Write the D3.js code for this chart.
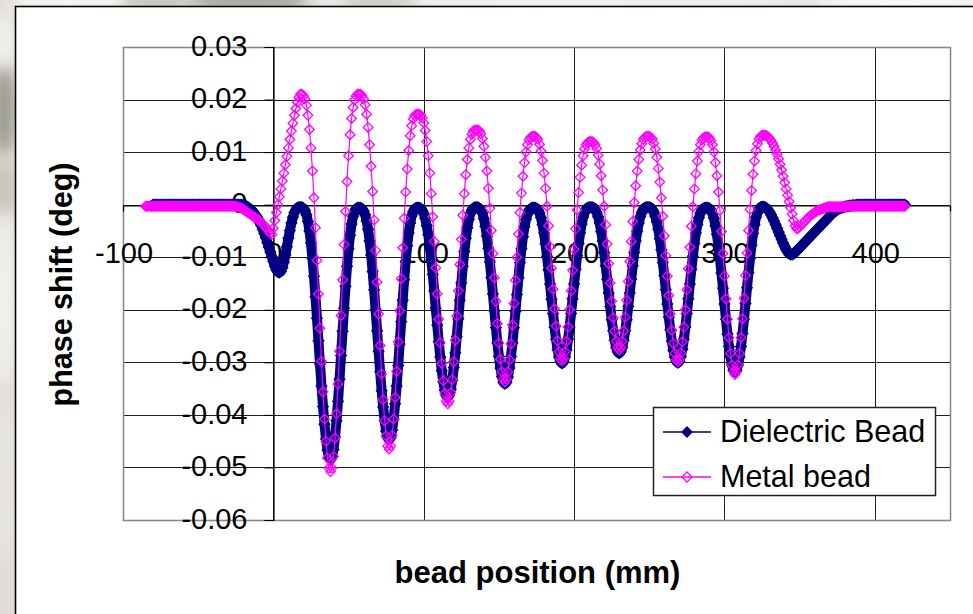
<!DOCTYPE html>
<html>
<head>
<meta charset="utf-8">
<script src="https://cdn.jsdelivr.net/npm/d3@7"></script>
<style>
  html, body { margin: 0; padding: 0; background: #ffffff; overflow: hidden; width: 973px; height: 614px; }
  svg { display: block; }
  text { font-family: "Liberation Sans", Arial, sans-serif; }
</style>
</head>
<body>
<svg id="chart" width="973" height="614"></svg>
<script>
// Bead-pull measurement: phase shift along the cavity axis, sampled every 1 mm
const beadPositions = d3.range(-85, 421);

// Dielectric bead phase shift (deg); null where no sample was taken
const dielectric = [
  null, null, null, null, null,
  0, 0, 0, 0, 0, 0, 0, 0, 0, 0, 0, 0, 0, 0, 0, 0, 0, 0, 0, 0,
  0, 0, 0, 0, 0, 0, 0, 0, 0, 0, 0, 0, 0, 0, 0, 0, 0, 0, 0, 0,
  0, 0, 0, 0, 0, 0, 0, 0, 0, 0, 0, 0, 0, 0, 0, 0, 0, 0, 0, 0,
  0, -0.0001, -0.0003, -0.0005, -0.0007, -0.0009, -0.0012, -0.0015, -0.0019, -0.0023, -0.0028, -0.0034,
  -0.0040, -0.0047, -0.0055, -0.0063, -0.0072, -0.0081, -0.0090, -0.0099, -0.0108, -0.0117, -0.0124, -0.0128,
  -0.0129, -0.0127, -0.0120, -0.0109, -0.0096, -0.0080, -0.0064, -0.0049, -0.0035, -0.0024, -0.0015, -0.0010, -0.0006, -0.0005,
  -0.0005, -0.0005, -0.0007, -0.0011, -0.0019, -0.0032, -0.0050, -0.0073, -0.0102, -0.0136, -0.0175, -0.0216, -0.0259, -0.0303, -0.0345, -0.0384, -0.0418, -0.0446, -0.0467, -0.0481, -0.0485,
  -0.0480, -0.0466, -0.0442, -0.0411, -0.0374, -0.0332, -0.0287, -0.0241, -0.0197, -0.0155, -0.0117, -0.0084, -0.0058, -0.0037, -0.0022, -0.0013, -0.0008, -0.0006, -0.0006,
  -0.0006, -0.0008, -0.0012, -0.0019, -0.0031, -0.0047, -0.0069, -0.0096, -0.0127, -0.0162, -0.0200, -0.0240, -0.0279, -0.0318, -0.0354, -0.0385, -0.0411, -0.0431, -0.0443, -0.0447,
  -0.0443, -0.0429, -0.0408, -0.0379, -0.0345, -0.0306, -0.0265, -0.0223, -0.0182, -0.0143, -0.0108, -0.0078, -0.0054, -0.0035, -0.0021, -0.0013, -0.0008, -0.0006, -0.0006,
  -0.0006, -0.0007, -0.0011, -0.0017, -0.0026, -0.0040, -0.0057, -0.0079, -0.0105, -0.0133, -0.0164, -0.0197, -0.0229, -0.0261, -0.0290, -0.0316, -0.0337, -0.0353, -0.0363, -0.0366,
  -0.0362, -0.0351, -0.0334, -0.0310, -0.0282, -0.0251, -0.0217, -0.0182, -0.0149, -0.0117, -0.0089, -0.0064, -0.0044, -0.0028, -0.0017, -0.0010, -0.0007, -0.0005, -0.0005,
  -0.0005, -0.0007, -0.0010, -0.0016, -0.0027, -0.0041, -0.0060, -0.0083, -0.0109, -0.0139, -0.0170, -0.0202, -0.0234, -0.0263, -0.0289, -0.0311, -0.0327, -0.0338, -0.0341,
  -0.0338, -0.0328, -0.0311, -0.0289, -0.0263, -0.0234, -0.0203, -0.0171, -0.0139, -0.0110, -0.0084, -0.0061, -0.0042, -0.0028, -0.0018, -0.0011, -0.0008, -0.0006, -0.0006,
  -0.0006, -0.0007, -0.0010, -0.0016, -0.0025, -0.0038, -0.0054, -0.0075, -0.0098, -0.0124, -0.0151, -0.0180, -0.0207, -0.0233, -0.0256, -0.0276, -0.0290, -0.0299, -0.0302,
  -0.0299, -0.0290, -0.0276, -0.0256, -0.0233, -0.0207, -0.0179, -0.0151, -0.0123, -0.0097, -0.0074, -0.0054, -0.0037, -0.0024, -0.0015, -0.0009, -0.0006, -0.0005, -0.0005,
  -0.0005, -0.0006, -0.0009, -0.0015, -0.0023, -0.0035, -0.0051, -0.0069, -0.0091, -0.0116, -0.0142, -0.0168, -0.0194, -0.0219, -0.0240, -0.0258, -0.0272, -0.0280, -0.0283,
  -0.0280, -0.0272, -0.0258, -0.0240, -0.0219, -0.0194, -0.0168, -0.0142, -0.0116, -0.0091, -0.0069, -0.0051, -0.0035, -0.0023, -0.0015, -0.0009, -0.0006, -0.0005, -0.0005,
  -0.0005, -0.0006, -0.0009, -0.0014, -0.0022, -0.0033, -0.0047, -0.0065, -0.0086, -0.0110, -0.0135, -0.0162, -0.0189, -0.0214, -0.0238, -0.0260, -0.0277, -0.0290, -0.0298, -0.0301,
  -0.0298, -0.0289, -0.0275, -0.0256, -0.0233, -0.0207, -0.0179, -0.0151, -0.0123, -0.0098, -0.0074, -0.0054, -0.0038, -0.0025, -0.0016, -0.0010, -0.0007, -0.0006, -0.0006,
  -0.0006, -0.0007, -0.0011, -0.0017, -0.0026, -0.0040, -0.0057, -0.0078, -0.0103, -0.0130, -0.0159, -0.0189, -0.0218, -0.0246, -0.0270, -0.0290, -0.0305, -0.0315, -0.0318,
  -0.0315, -0.0305, -0.0290, -0.0270, -0.0245, -0.0218, -0.0188, -0.0158, -0.0129, -0.0102, -0.0077, -0.0055, -0.0038, -0.0024, -0.0015, -0.0009, -0.0005, -0.0004, -0.0004,
  -0.0005, -0.0007, -0.0010, -0.0014, -0.0019, -0.0025, -0.0031, -0.0038, -0.0045, -0.0052, -0.0059, -0.0066, -0.0073, -0.0079, -0.0085, -0.0090, -0.0093, -0.0095,
  -0.0095, -0.0093, -0.0091, -0.0088, -0.0085, -0.0082, -0.0079, -0.0076, -0.0073, -0.0070, -0.0067, -0.0064, -0.0061, -0.0058, -0.0055,
  -0.0052, -0.0049, -0.0046, -0.0043, -0.0040, -0.0037, -0.0034, -0.0031, -0.0028, -0.0025, -0.0022, -0.0019, -0.0016, -0.0014, -0.0012,
  -0.0010, -0.0008, -0.0007, -0.0006, -0.0005, -0.0004, -0.0003, -0.0003, -0.0002, -0.0002, -0.0001, -0.0001, -0.0001,
  0, 0, 0, 0, 0, 0, 0, 0, 0, 0, 0, 0, 0, 0, 0, 0, 0, 0, 0, 0, 0, 0, 0, 0, 0, 0, 0, 0, 0, 0, 0, 0, 0
];

// Metal bead phase shift (deg)
const metal = [
  -0.0003, -0.0003, -0.0003, -0.0003, -0.0003, -0.0003, -0.0003, -0.0003, -0.0003, -0.0003, -0.0003, -0.0003, -0.0003, -0.0003, -0.0003,
  -0.0003, -0.0003, -0.0003, -0.0003, -0.0003, -0.0003, -0.0003, -0.0003, -0.0003, -0.0003, -0.0003, -0.0003, -0.0003, -0.0003, -0.0003,
  -0.0003, -0.0003, -0.0003, -0.0003, -0.0003, -0.0003, -0.0003, -0.0003, -0.0003, -0.0003, -0.0003, -0.0003, -0.0003, -0.0003, -0.0003,
  -0.0003, -0.0003, -0.0003, -0.0003, -0.0003, -0.0003, -0.0003, -0.0003, -0.0003, -0.0003, -0.0003, -0.0003, -0.0003, -0.0003, -0.0003,
  -0.0003, -0.0004, -0.0005, -0.0006, -0.0007, -0.0009, -0.0011, -0.0013, -0.0015, -0.0017, -0.0019, -0.0021, -0.0023,
  -0.0025, -0.0027, -0.0029, -0.0031, -0.0034, -0.0037, -0.0040, -0.0043, -0.0047, -0.0051, -0.0055, -0.0057,
  -0.0045, -0.0030, -0.0015, 0.0000, 0.0015, 0.0030, 0.0045, 0.0060, 0.0076, 0.0092, 0.0108, 0.0124, 0.0140, 0.0155, 0.0170, 0.0183, 0.0195, 0.0204, 0.0210,
  0.0210, 0.0207, 0.0201, 0.0189, 0.0170, 0.0143, 0.0108, 0.0064, 0.0013, -0.0044, -0.0106, -0.0170, -0.0235, -0.0298, -0.0356, -0.0408, -0.0450, -0.0482, -0.0501, -0.0508,
  -0.0501, -0.0479, -0.0444, -0.0398, -0.0341, -0.0279, -0.0211, -0.0143, -0.0076, -0.0013, 0.0044, 0.0093, 0.0133, 0.0164, 0.0185, 0.0199, 0.0207, 0.0210, 0.0210,
  0.0210, 0.0207, 0.0201, 0.0190, 0.0172, 0.0147, 0.0114, 0.0073, 0.0025, -0.0029, -0.0087, -0.0147, -0.0208, -0.0268, -0.0322, -0.0371, -0.0411, -0.0440, -0.0459, -0.0465,
  -0.0459, -0.0439, -0.0408, -0.0367, -0.0317, -0.0261, -0.0202, -0.0141, -0.0082, -0.0026, 0.0024, 0.0068, 0.0103, 0.0131, 0.0150, 0.0163, 0.0169, 0.0172, 0.0172,
  0.0172, 0.0170, 0.0165, 0.0156, 0.0141, 0.0120, 0.0093, 0.0060, 0.0021, -0.0023, -0.0070, -0.0120, -0.0170, -0.0218, -0.0263, -0.0302, -0.0335, -0.0359, -0.0374, -0.0379,
  -0.0374, -0.0358, -0.0333, -0.0299, -0.0258, -0.0212, -0.0164, -0.0114, -0.0066, -0.0020, 0.0021, 0.0057, 0.0086, 0.0108, 0.0124, 0.0134, 0.0140, 0.0142, 0.0142,
  0.0142, 0.0140, 0.0135, 0.0126, 0.0111, 0.0090, 0.0064, 0.0031, -0.0007, -0.0049, -0.0093, -0.0139, -0.0184, -0.0226, -0.0263, -0.0294, -0.0318, -0.0332, -0.0337,
  -0.0332, -0.0318, -0.0295, -0.0265, -0.0229, -0.0188, -0.0144, -0.0100, -0.0056, -0.0015, 0.0022, 0.0054, 0.0080, 0.0100, 0.0114, 0.0123, 0.0128, 0.0130, 0.0130,
  0.0130, 0.0128, 0.0124, 0.0115, 0.0102, 0.0084, 0.0060, 0.0031, -0.0003, -0.0040, -0.0080, -0.0121, -0.0161, -0.0198, -0.0231, -0.0259, -0.0280, -0.0293, -0.0297,
  -0.0293, -0.0280, -0.0260, -0.0233, -0.0200, -0.0164, -0.0125, -0.0085, -0.0046, -0.0010, 0.0023, 0.0052, 0.0075, 0.0093, 0.0106, 0.0114, 0.0118, 0.0120, 0.0120,
  0.0120, 0.0118, 0.0114, 0.0107, 0.0094, 0.0077, 0.0055, 0.0028, -0.0003, -0.0038, -0.0075, -0.0112, -0.0149, -0.0184, -0.0215, -0.0241, -0.0260, -0.0272, -0.0276,
  -0.0272, -0.0260, -0.0240, -0.0214, -0.0182, -0.0146, -0.0108, -0.0070, -0.0032, 0.0004, 0.0036, 0.0064, 0.0086, 0.0104, 0.0116, 0.0124, 0.0128, 0.0130, 0.0130,
  0.0130, 0.0128, 0.0125, 0.0117, 0.0106, 0.0090, 0.0069, 0.0043, 0.0013, -0.0022, -0.0059, -0.0097, -0.0136, -0.0173, -0.0208, -0.0239, -0.0264, -0.0283, -0.0295, -0.0299,
  -0.0295, -0.0282, -0.0261, -0.0233, -0.0200, -0.0162, -0.0122, -0.0081, -0.0041, -0.0004, 0.0030, 0.0059, 0.0083, 0.0101, 0.0114, 0.0123, 0.0127, 0.0129, 0.0129,
  0.0129, 0.0127, 0.0122, 0.0114, 0.0100, 0.0080, 0.0055, 0.0024, -0.0011, -0.0051, -0.0093, -0.0136, -0.0179, -0.0218, -0.0253, -0.0283, -0.0305, -0.0318, -0.0323,
  -0.0318, -0.0305, -0.0283, -0.0253, -0.0217, -0.0178, -0.0135, -0.0092, -0.0049, -0.0009, 0.0027, 0.0058, 0.0083, 0.0103, 0.0116, 0.0125, 0.0130, 0.0132, 0.0132,
  0.0132, 0.0131, 0.0129, 0.0126, 0.0122, 0.0117, 0.0111, 0.0104, 0.0096, 0.0087, 0.0077, 0.0066, 0.0054, 0.0042, 0.0030, 0.0018, 0.0006, -0.0006, -0.0018, -0.0030, -0.0040, -0.0046, -0.0045,
  -0.0042, -0.0039, -0.0036, -0.0033, -0.0030, -0.0027, -0.0024, -0.0021, -0.0019, -0.0017, -0.0015, -0.0013, -0.0011, -0.0010, -0.0009, -0.0008, -0.0007, -0.0006, -0.0005,
  -0.0004, -0.0004, -0.0004, -0.0004, -0.0004, -0.0004, -0.0004, -0.0004, -0.0004, -0.0004, -0.0004, -0.0004,
  -0.0003, -0.0003, -0.0003, -0.0003, -0.0003, -0.0003, -0.0003, -0.0003, -0.0003, -0.0003, -0.0003, -0.0003, -0.0003, -0.0003, -0.0003, -0.0003, -0.0003, -0.0003, -0.0003, -0.0003,
  -0.0003, -0.0003, -0.0003, -0.0003, -0.0003, -0.0003, -0.0003, -0.0003, -0.0003, -0.0003, -0.0003, -0.0003, -0.0003, -0.0003, -0.0003, -0.0003, -0.0003, -0.0003, -0.0003, -0.0003
];

const seriesNames = ["Dielectric Bead", "Metal bead"];
const xTicks = [-100, 0, 100, 200, 300, 400];
const xTickLabels = ["-100", "0", "100", "200", "300", "400"];
const yTicks = [0.03, 0.02, 0.01, 0, -0.01, -0.02, -0.03, -0.04, -0.05, -0.06];
const yTickLabels = ["0.03", "0.02", "0.01", "0", "-0.01", "-0.02", "-0.03", "-0.04", "-0.05", "-0.06"];
const xTitle = "bead position (mm)";
const yTitle = "phase shift (deg)";

const W = 973, H = 614;
const svg = d3.select("#chart");

// ---- surroundings outside the chart frame ----
const defs = svg.append("defs");
defs.append("filter").attr("id", "soft")
  .attr("x", "-50%").attr("y", "-50%").attr("width", "200%").attr("height", "200%")
  .append("feGaussianBlur").attr("stdDeviation", 7);
defs.append("clipPath").attr("id", "page")
  .append("rect").attr("width", W).attr("height", H);

const root = svg.append("g").attr("clip-path", "url(#page)");
const backdrop = root.append("g");
backdrop.append("rect").attr("width", W).attr("height", H).attr("fill", "#dedcd4");
const blobs = backdrop.append("g").attr("filter", "url(#soft)");
[
  [70, 0, 60, 14, "#f6f5f0"], [250, 0, 70, 12, "#a9a89f"], [160, 0, 40, 10, "#c9c7bd"],
  [560, 0, 260, 12, "#f3f2ee"], [900, 0, 90, 12, "#fafafa"], [380, 0, 40, 10, "#d0cfc6"],
  [4, 40, 12, 30, "#f0efe9"], [4, 110, 12, 45, "#9d9c92"], [4, 190, 12, 30, "#c6c5bb"],
  [4, 300, 12, 90, "#f1f0ea"], [4, 480, 12, 90, "#e6e5de"]
].forEach(([cx, cy, rx, ry, c]) => {
  blobs.append("ellipse").attr("cx", cx).attr("cy", cy).attr("rx", rx).attr("ry", ry).attr("fill", c);
});

// chart area (continues past the right and bottom edges)
root.append("rect")
  .attr("x", 15.5).attr("y", 6.5).attr("width", W).attr("height", H)
  .attr("fill", "#ffffff").attr("stroke", "#000000").attr("stroke-width", 1.6);

// ---- scales ----
const plot = { left: 123, right: 950, top: 47, bottom: 520 };
const x = d3.scaleLinear().domain([-100, 450]).range([plot.left, plot.right]);
const y = d3.scaleLinear().domain([-0.06, 0.03]).range([plot.bottom, plot.top]);

// gridlines
const grid = root.append("g").attr("stroke", "#1e1e1e").attr("stroke-width", 1);
yTicks.slice(1, -1).forEach(v => {
  const yy = Math.round(y(v)) + 0.5;
  grid.append("line").attr("x1", plot.left).attr("x2", plot.right).attr("y1", yy).attr("y2", yy);
});
xTicks.slice(1).forEach(v => {
  const xx = Math.round(x(v)) + 0.5;
  grid.append("line").attr("x1", xx).attr("x2", xx).attr("y1", plot.top).attr("y2", plot.bottom);
});

// plot area border
root.append("rect")
  .attr("x", plot.left + 0.5).attr("y", plot.top + 0.5)
  .attr("width", plot.right - plot.left).attr("height", plot.bottom - plot.top)
  .attr("fill", "none").attr("stroke", "#8a8a8a").attr("stroke-width", 1.6);

// axes crossing at zero
const x0 = Math.round(x(0)) + 0.5, y0 = Math.round(y(0)) + 0.5;
const yAxis = d3.axisLeft(y).tickValues(yTicks).tickSize(9).tickFormat("");
root.append("g").attr("transform", `translate(${x0},0)`).call(yAxis)
  .call(g => g.select(".domain").attr("stroke", "#000").attr("stroke-width", 1.2))
  .call(g => g.selectAll(".tick line").attr("stroke", "#000"));
const xAxis = d3.axisBottom(x).tickValues(xTicks).tickSize(6).tickFormat("");
root.append("g").attr("transform", `translate(0,${y0})`).call(xAxis)
  .call(g => g.select(".domain").attr("stroke", "#000").attr("stroke-width", 1.2))
  .call(g => g.selectAll(".tick line").attr("stroke", "#000"));

// tick labels
root.append("g").selectAll("text").data(yTicks).join("text")
  .attr("x", x0 - 26).attr("y", d => y(d) + 1)
  .attr("text-anchor", "end").attr("dominant-baseline", "middle")
  .attr("font-size", 29).attr("fill", "#000")
  .text((d, i) => yTickLabels[i]);
root.append("g").selectAll("text").data(xTicks).join("text")
  .attr("x", d => x(d) + 1).attr("y", y(0) + 58)
  .attr("text-anchor", "middle")
  .attr("font-size", 29).attr("fill", "#000")
  .text((d, i) => xTickLabels[i]);

// axis titles
root.append("text")
  .attr("x", (plot.left + plot.right) / 2 + 1).attr("y", 583)
  .attr("text-anchor", "middle").attr("font-size", 31).attr("font-weight", "bold")
  .text(xTitle);
root.append("text")
  .attr("transform", `translate(72,${(plot.top + plot.bottom) / 2 + 1}) rotate(-90)`)
  .attr("text-anchor", "middle").attr("font-size", 30.5).attr("font-weight", "bold")
  .text(yTitle);

// ---- series ----
const diamond = r => `M0,${-r}L${r},0L0,${r}L${-r},0Z`;
const navy = "#000080", magenta = "#ff00ff";

const dielectricPts = beadPositions.map((p, i) => [p, dielectric[i]]).filter(d => d[1] !== null && d[1] !== undefined);
const metalPts = beadPositions.map((p, i) => [p, metal[i]]).filter(d => d[1] !== null && d[1] !== undefined);
const line = d3.line().x(d => x(d[0])).y(d => y(d[1]));

// dense dielectric samples merge into a solid band of markers
const dGroup = root.append("g");
dGroup.append("path").datum(dielectricPts).attr("d", line)
  .attr("fill", "none").attr("stroke", navy).attr("stroke-width", 10)
  .attr("stroke-linejoin", "round").attr("stroke-linecap", "round");
dGroup.selectAll("path.m").data(dielectricPts).join("path").attr("class", "m")
  .attr("transform", d => `translate(${x(d[0])},${y(d[1])})`)
  .attr("d", diamond(6.2)).attr("fill", navy);

const mGroup = root.append("g");
mGroup.append("path").datum(metalPts).attr("d", line)
  .attr("fill", "none").attr("stroke", magenta).attr("stroke-width", 1.2);
mGroup.selectAll("path.m").data(metalPts).join("path").attr("class", "m")
  .attr("transform", d => `translate(${x(d[0])},${y(d[1])})`)
  .attr("d", diamond(4.8)).attr("fill", "none").attr("stroke", magenta).attr("stroke-width", 1.3);

// ---- legend ----
const lg = root.append("g");
lg.append("rect").attr("x", 653.5).attr("y", 407.5).attr("width", 282).attr("height", 88)
  .attr("fill", "#ffffff").attr("stroke", "#222").attr("stroke-width", 1.5);
const legendRows = [
  { name: seriesNames[0], color: navy, fill: navy, y: 432 },
  { name: seriesNames[1], color: magenta, fill: "none", y: 477 }
];
legendRows.forEach(r => {
  lg.append("line").attr("x1", 663).attr("x2", 711).attr("y1", r.y).attr("y2", r.y)
    .attr("stroke", r.color).attr("stroke-width", 1.5);
  lg.append("path").attr("transform", `translate(687,${r.y})`).attr("d", diamond(5))
    .attr("fill", r.fill).attr("stroke", r.color).attr("stroke-width", 1.3);
  lg.append("text").attr("x", 720).attr("y", r.y + 10).attr("font-size", 30.5).attr("fill", "#000")
    .text(r.name);
});
</script>
</body>
</html>
